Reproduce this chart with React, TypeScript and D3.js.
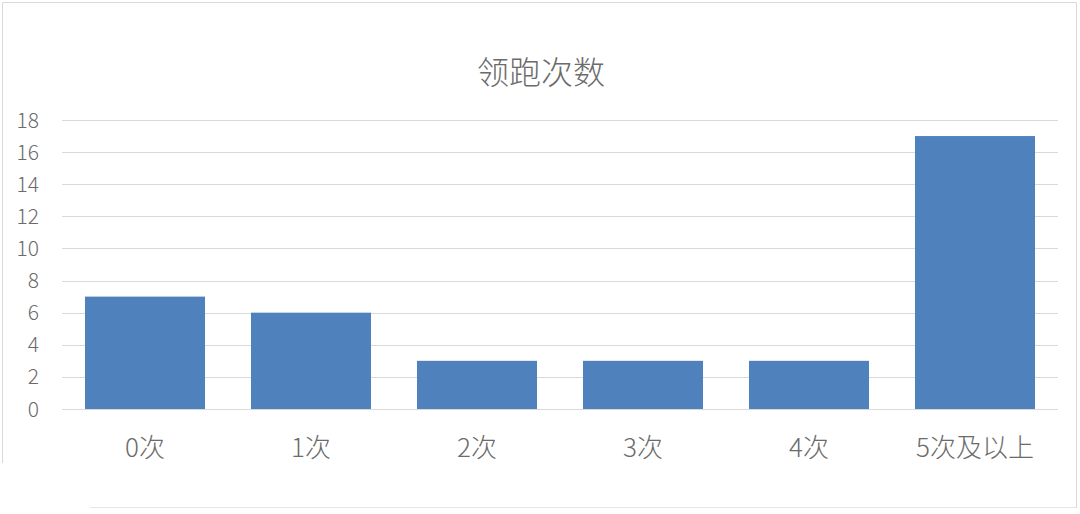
import React from "react";
import * as d3 from "d3";

const categories: string[] = ["0次", "1次", "2次", "3次", "4次", "5次及以上"];
const values: number[] = [7, 6, 3, 3, 3, 17];
const yTicks: number[] = [0, 2, 4, 6, 8, 10, 12, 14, 16, 18];
const title = "领跑次数";

const W = 1080;
const H = 514;
const FONT = "'Noto Sans CJK SC', 'Open Sans', sans-serif";
const TEXT = "#6b6b6b";

export default function App() {
  const x = d3
    .scaleBand<string>()
    .domain(categories)
    .range([62, 1058])
    .paddingInner(0.277)
    .paddingOuter(0.1385);
  const y = d3.scaleLinear().domain([0, 18]).range([409, 120]);

  return (
    <svg
      width={W}
      height={H}
      style={{ position: "absolute", left: 0, top: 0, background: "#fff" }}
    >
      <rect x={0} y={0} width={W} height={H} fill="#fff" />
      {/* outer chart border */}
      <line x1={2.5} y1={2.5} x2={1076.5} y2={2.5} stroke="#D9D9D9" />
      <line x1={2.5} y1={2.5} x2={2.5} y2={463} stroke="#D9D9D9" />
      <line x1={1076.5} y1={2.5} x2={1076.5} y2={508} stroke="#D9D9D9" />
      <line x1={90} y1={507.5} x2={1076.5} y2={507.5} stroke="#E6E6E6" />

      <text
        x={541}
        y={84}
        textAnchor="middle"
        fontFamily={FONT}
        fontSize={32}
        fontWeight={300}
        fill={TEXT}
      >
        {title}
      </text>

      {yTicks.map((t) => (
        <g key={t}>
          <line
            x1={62}
            x2={1058}
            y1={Math.round(y(t)) + 0.5}
            y2={Math.round(y(t)) + 0.5}
            stroke="#D9D9D9"
            strokeWidth={1}
          />
          <text
            x={39}
            y={y(t)}
            dy="0.36em"
            textAnchor="end"
            fontFamily={FONT}
            fontSize={21}
            fontWeight={300}
            fill={TEXT}
          >
            {t}
          </text>
        </g>
      ))}

      {categories.map((c, i) => (
        <rect
          key={c}
          x={x(c)}
          y={y(values[i])}
          width={x.bandwidth()}
          height={y(0) - y(values[i])}
          fill="#4F81BD"
        />
      ))}

      {categories.map((c) => (
        <text
          key={c}
          x={(x(c) as number) + x.bandwidth() / 2}
          y={457}
          textAnchor="middle"
          fontFamily={FONT}
          fontSize={26}
          fontWeight={300}
          fill={TEXT}
        >
          {c}
        </text>
      ))}
    </svg>
  );
}
